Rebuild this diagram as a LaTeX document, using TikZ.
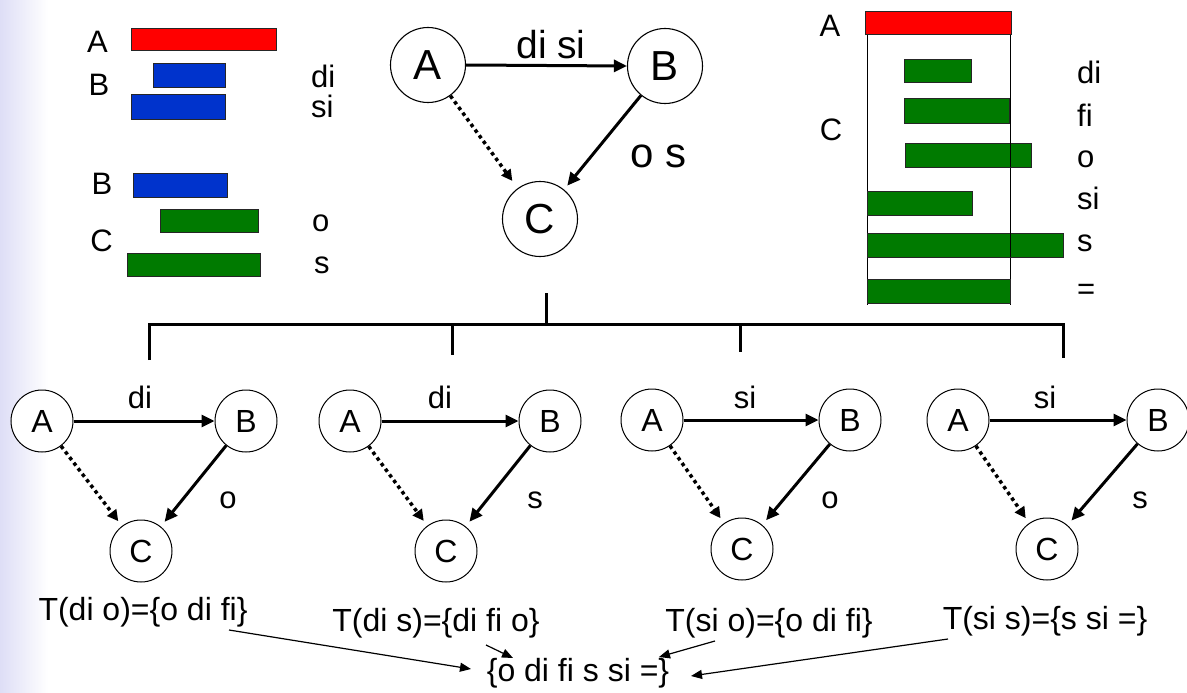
\documentclass[tikz,border=0pt]{standalone}
\usepackage{fontspec}
\setmainfont{Liberation Sans}
\usetikzlibrary{arrows.meta,calc}
\definecolor{barred}{RGB}{255,0,0}
\definecolor{barblue}{RGB}{0,51,204}
\definecolor{bargreen}{RGB}{0,122,0}
\definecolor{lav}{RGB}{222,222,246}
\begin{document}
\begin{tikzpicture}[x=1pt,y=-1pt,
  bigc/.style={circle,draw,line width=1.1pt,fill=white,minimum size=75pt,inner sep=0pt,font=\fontsize{42}{42}\selectfont},
  smallc/.style={circle,draw,line width=1pt,fill=white,minimum size=62pt,inner sep=0pt,font=\fontsize{32}{32}\selectfont},
  solidarr/.style={line width=3pt,-{Triangle[length=13pt,width=12pt]}},
  dotarr/.style={line width=3.5pt,dash pattern=on 3.5pt off 3.5pt,-{Triangle[length=11pt,width=11pt]}},
  thinarr/.style={line width=1.2pt,-{Triangle[length=11pt,width=9pt]}},
  treeline/.style={line width=3pt},
  lbl/.style={font=\fontsize{31}{31}\selectfont,inner sep=0pt},
  elbl/.style={font=\fontsize{31}{31}\selectfont,inner sep=0pt},
  tlbl/.style={font=\fontsize{32}{32}\selectfont,inner sep=0pt},
  bar/.style={draw=black!85,line width=1pt},
]
\useasboundingbox (0,0) rectangle (1187,693);
\shade[left color=lav,right color=white] (0,0) rectangle (48,693);

% ---------- top-left bars ----------
\draw[bar,fill=barred] (131,29) rectangle (276,51);
\draw[bar,fill=barblue] (153,64) rectangle (225,88);
\draw[bar,fill=barblue] (131,95) rectangle (225,119);
\draw[bar,fill=barblue] (133,173) rectangle (227,197);
\draw[bar,fill=bargreen] (160,209) rectangle (258,232);
\draw[bar,fill=bargreen] (127,253) rectangle (260,276);
\node[lbl] (la) at (97.5,42) {A};
\node[lbl] (lb) at (99,85) {B};
\node[lbl,anchor=west] (ldi) at (311,76) {di};
\node[lbl,anchor=west] (lsi) at (311,106) {si};
\node[lbl] (lb2) at (102,184) {B};
\node[lbl,anchor=west] (lo) at (312,223) {o};
\node[lbl] (lc) at (101.5,241) {C};
\node[lbl,anchor=west] (ls) at (314,265) {s};

% ---------- top graph ----------
\node[bigc] (A0) at (428,65) {A};
\node[bigc] (B0) at (665,66) {B};
\node[bigc] (C0) at (540,219) {C};
\draw[solidarr] (A0.east) -- (B0.west);
\draw[solidarr,shorten >=5pt] (B0) -- (C0);
\draw[dotarr,shorten >=9pt] (A0) -- (C0);
\node[font=\fontsize{39}{39}\selectfont,inner sep=0pt] (l0a) at (551,45) {di si};
\node[font=\fontsize{42}{42}\selectfont,inner sep=0pt] (l0b) at (659,156) {o s};

% ---------- top-right bars ----------
\draw[line width=0.9pt] (867,35) -- (867,305);
\draw[line width=0.9pt] (1010,35) -- (1010,305);
\draw[bar,fill=barred] (865,12) rectangle (1011,35);
\draw[bar,fill=bargreen] (904,60) rectangle (971,83);
\draw[bar,fill=bargreen] (904,99) rectangle (1009,123);
\draw[bar,fill=bargreen] (905,143) rectangle (1031,167);
\draw[bar,fill=bargreen] (867,191) rectangle (972,215);
\draw[bar,fill=bargreen] (867,233) rectangle (1063,257);
\draw[bar,fill=bargreen] (867,279) rectangle (1010,303);
\draw[line width=0.9pt] (1010,233) -- (1010,257);
\draw[line width=0.9pt] (1010,143) -- (1010,167);
\node[lbl] (ra) at (830,26) {A};
\node[lbl] (rc) at (831,130) {C};
\node[lbl,anchor=west] (rdi) at (1077,72) {di};
\node[lbl,anchor=west] (rfi) at (1077,115) {fi};
\node[lbl,anchor=west] (ro) at (1077,159) {o};
\node[lbl,anchor=west] (rsi) at (1077,198) {si};
\node[lbl,anchor=west] (rs) at (1077,243) {s};
\node[lbl,anchor=west] (req) at (1077,292) {=};

% ---------- tree ----------
\coordinate (stem) at (546,293);
\coordinate (hub) at (546,324);
\coordinate (h1) at (149,324);
\coordinate (h2) at (452,324);
\coordinate (h3) at (740,324);
\coordinate (h4) at (1063,324);
\coordinate (d1) at (149,360);
\coordinate (d2) at (452,355);
\coordinate (d3) at (740,352);
\coordinate (d4) at (1063,358);
\draw[treeline] (stem) -- (hub);
\draw[treeline] (d1) -- (h1) -- (h4) -- (d4);
\draw[treeline] (h2) -- (d2);
\draw[treeline] (h3) -- (d3);

% ---------- bottom graphs ----------
\foreach \i/\ax/\ay/\bx/\by/\cx/\cy/\ta/\tb/\lx/\sx in {
  1/42/421/246/421/141/551/di/o/140/228,
  2/350/421/550/421/446/551/di/s/440/535,
  3/652/420/850/420/742/549/si/o/745/830,
  4/958/420/1158/420/1047/549/si/s/1045/1140}{
  \node[smallc] (A\i) at (\ax,\ay) {A};
  \node[smallc] (B\i) at (\bx,\by) {B};
  \node[smallc] (C\i) at (\cx,\cy) {C};
  \draw[solidarr] (A\i.east) -- (B\i.west);
  \draw[solidarr,shorten >=6pt] (B\i) -- (C\i);
  \draw[dotarr,shorten >=6pt] (A\i) -- (C\i);
  \node[elbl] (ta\i) at (\lx,397) {\ta};
  \node[elbl] (tb\i) at (\sx,500) {\tb};
}

% ---------- results ----------
\node[tlbl] (T1) at (143,612) {T(di o)=\{o di fi\}};
\node[tlbl] (T2) at (436,623) {T(di s)=\{di fi o\}};
\node[tlbl] (T3) at (769,623) {T(si o)=\{o di fi\}};
\node[tlbl] (T4) at (1045,621) {T(si s)=\{s si =\}};
\node[tlbl] (F) at (578,673) {\{o di fi s si =\}};
\draw[thinarr] ($(T1)+(86,18)$) -- ($(F)+(-107,-4)$);
\draw[thinarr] ($(T2)+(50,22)$) -- ($(F)+(-65,-15)$);
\draw[thinarr] ($(T3)+(-54,18)$) -- ($(F)+(81,-16)$);
\draw[thinarr] ($(T4)+(-97,18)$) -- ($(F)+(113,3)$);
\end{tikzpicture}
\end{document}
